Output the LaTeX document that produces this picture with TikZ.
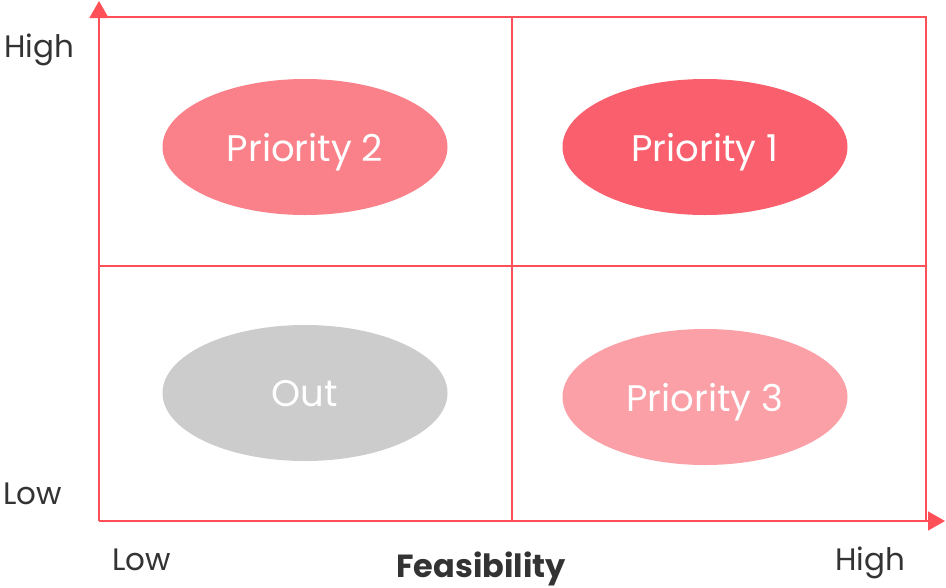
\documentclass[tikz,border=0pt]{standalone}
\usepackage{fontspec}
\setmainfont{Poppins}
\usetikzlibrary{shapes.geometric,arrows.meta}
\definecolor{gridred}{HTML}{FF5058}
\definecolor{txt}{HTML}{333333}
\definecolor{pone}{HTML}{F95F6D}
\definecolor{ptwo}{HTML}{FA8189}
\definecolor{pthree}{HTML}{FAA0A6}
\definecolor{outgray}{HTML}{CCCCCC}
\tikzset{
  blob/.style={ellipse, minimum width=285pt, minimum height=136pt, inner sep=0pt, text=white, text depth=0pt, font=\fontsize{37}{40}\selectfont},
  gridline/.style={draw=gridred, line width=1.2pt},
  axisline/.style={draw=gridred, line width=1.5pt, -{Triangle[length=17pt,width=19pt]}},
  lab/.style={text=txt, font=\fontsize{31}{35}\selectfont, inner sep=0pt},
}
\begin{document}
\begin{tikzpicture}[x=1pt,y=-1pt]
\useasboundingbox (0,0) rectangle (946,587);
\coordinate (o) at (99,521);
\coordinate (tl) at (99,17);
\coordinate (tr) at (926,17);
\coordinate (br) at (926,521);
\coordinate (mt) at (512,17);
\coordinate (mb) at (512,521);
\coordinate (ml) at (99,266);
\coordinate (mr) at (926,266);
\coordinate (ytip) at (99,1);
\coordinate (xtip) at (945,521);
\draw[gridline] (tl) -- (tr) -- (br);
\draw[gridline] (mt) -- (mb);
\draw[gridline] (ml) -- (mr);
\draw[axisline] (o) -- (ytip);
\draw[axisline] (o) -- (xtip);
\node[blob, fill=ptwo] (p2) at (305,147) {Priority 2};
\node[blob, fill=pone] (p1) at (705,147) {Priority 1};
\node[blob, fill=outgray] (out) at (305,393) {Out};
\node[blob, fill=pthree] (p3) at (705,397) {Priority 3};
\node[lab, anchor=west] (yhigh) at (4,50) {High};
\node[lab, anchor=west] (ylow) at (3,494) {Low};
\node[lab, anchor=west] (xlow) at (112,560) {Low};
\node[lab, anchor=west] (xhigh) at (835,563) {High};
\node[text=txt, font=\fontsize{32}{36}\selectfont\bfseries, inner sep=0pt] (feas) at (481,568.5) {Feasibility};
\end{tikzpicture}
\end{document}
